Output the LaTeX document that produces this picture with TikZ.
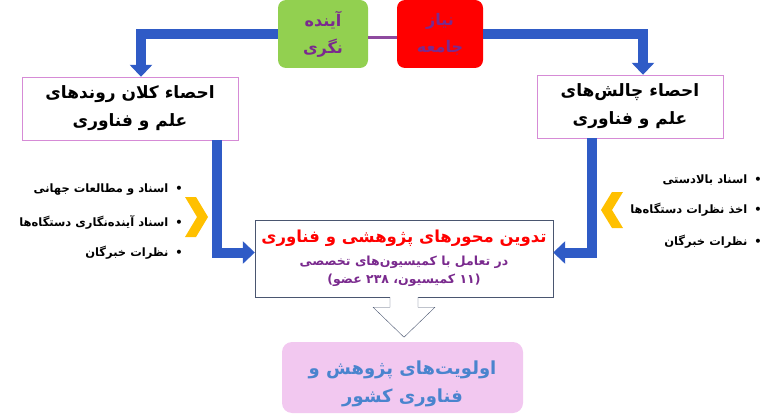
\documentclass[tikz,border=0pt]{standalone}
\usepackage{fontspec}
\usepackage{xcolor}
\usetikzlibrary{arrows.meta,positioning}
\TeXXeTstate=1
\newfontfamily\arabicfont[Script=Arabic]{DejaVu Sans}
\definecolor{myblue}{HTML}{2F5BC6}
\definecolor{mygreen}{HTML}{92D050}
\definecolor{myred}{HTML}{FF0000}
\definecolor{mypurple}{HTML}{7A2A8E}
\definecolor{mypink}{HTML}{D68BD6}
\definecolor{myslate}{HTML}{4A5670}
\definecolor{mylilac}{HTML}{F2C8F0}
\definecolor{myyellow}{HTML}{FFC000}
\definecolor{mysky}{HTML}{4A84CE}
\newcommand{\rl}[1]{\beginR#1\endR}

\begin{document}
\begin{tikzpicture}[x=1pt,y=-1pt,
    font=\arabicfont\bfseries,
    topbox/.style={rounded corners=8pt, text=mypurple, align=center,
        inner sep=0pt, font=\arabicfont\bfseries\fontsize{16}{27}\selectfont},
    sidebox/.style={draw=mypink, thin, fill=white, align=center, inner sep=0pt,
        minimum height=63pt, font=\arabicfont\bfseries\fontsize{17}{28}\selectfont},
    bluearrow/.style={myblue, line width=10pt, -{Triangle[width=22pt,length=12pt]}},
    bulletline/.style={anchor=east, inner sep=0pt, font=\arabicfont\bfseries\fontsize{11.5}{13}\selectfont},
    chevron/.style={fill=myyellow, draw=none}]
    \useasboundingbox (0,0) rectangle (771,417);

    % top
    \node[topbox, fill=mygreen, minimum width=90pt, minimum height=68pt] (ayande) at (323,34)
        {\rl{آینده}\\\rl{نگری}};
    \node[topbox, fill=myred, minimum width=86pt, minimum height=68pt] (niaz) at (440,34)
        {\rl{نیاز}\\\rl{جامعه}};
    \draw[mypurple!85, line width=3pt] ([yshift=-4pt]ayande.east) -- ([yshift=-4pt]niaz.west);

    % side boxes
    \node[sidebox, minimum width=216pt] (ravand) at (130,108.5)
        {\rl{احصاء کلان روندهای}\\\rl{علم و فناوری}};
    \node[sidebox, minimum width=186pt] (chalesh) at (630,106.5)
        {\rl{احصاء چالش‌های}\\\rl{علم و فناوری}};

    % main box
    \node[draw=myslate, thin, fill=white, minimum width=298pt, minimum height=77pt,
        align=center, inner sep=0pt] (tadvin) at (404,258.5)
        {\textcolor{myred}{\fontsize{16.5}{22}\selectfont\rl{تدوین محورهای پژوهشی و فناوری}}\\[8pt]
         \textcolor{mypurple}{\fontsize{12.5}{20}\selectfont\rl{در تعامل با کمیسیون‌های تخصصی}}\\[5pt]
         \textcolor{mypurple}{\fontsize{12.5}{19}\selectfont\rl{(۱۱ کمیسیون، ۲۳۸ عضو)}}};

    % result
    \node[fill=mylilac, rounded corners=10pt, minimum width=241pt, minimum height=71pt,
        align=center, inner sep=0pt, text=mysky,
        font=\arabicfont\bfseries\fontsize{18}{28}\selectfont] (olaviat) at (402.5,377.5)
        {\rule{0pt}{26pt}\rl{اولویت‌های پژوهش و}\\\rl{فناوری کشور}};

    % arrows
    \draw[bluearrow] (ayande.west) -| ([xshift=11pt]ravand.north);
    \draw[bluearrow] (niaz.east) -| ([xshift=13pt]chalesh.north);
    \draw[bluearrow] ([xshift=87pt]ravand.south) |- ([yshift=6pt]tadvin.west);
    \draw[bluearrow] ([xshift=-38pt]chalesh.south) |- ([yshift=6pt]tadvin.east);
    \draw[myslate, fill=white] (tadvin.south) ++(-14,0) -- ++(0,10) -- ++(-17,0) -- ++(31,30)
        -- ++(31,-30) -- ++(-17,0) -- ++(0,-10);

    % bullets
    \node[bulletline] (lb1) at (183,190) {\rl{•\hspace{7pt}اسناد و مطالعات جهانی}};
    \node[bulletline] (lb2) at (183,222) {\rl{•\hspace{7pt}اسناد آینده‌نگاری دستگاه‌ها}};
    \node[bulletline] (lb3) at (183,253) {\rl{•\hspace{7pt}نظرات خبرگان}};
    \node[bulletline] (rb1) at (762,180) {\rl{•\hspace{7pt}اسناد بالادستی}};
    \node[bulletline] (rb2) at (762,210) {\rl{•\hspace{7pt}اخذ نظرات دستگاه‌ها}};
    \node[bulletline] (rb3) at (762,242) {\rl{•\hspace{7pt}نظرات خبرگان}};
    \fill[chevron] (185,197) -- (196,197) -- (208,217) -- (196,237) -- (185,237) -- (197,217) -- cycle;
    \fill[chevron] (623,192) -- (612,192) -- (601,210) -- (612,228) -- (623,228) -- (612,210) -- cycle;
\end{tikzpicture}
\end{document}
